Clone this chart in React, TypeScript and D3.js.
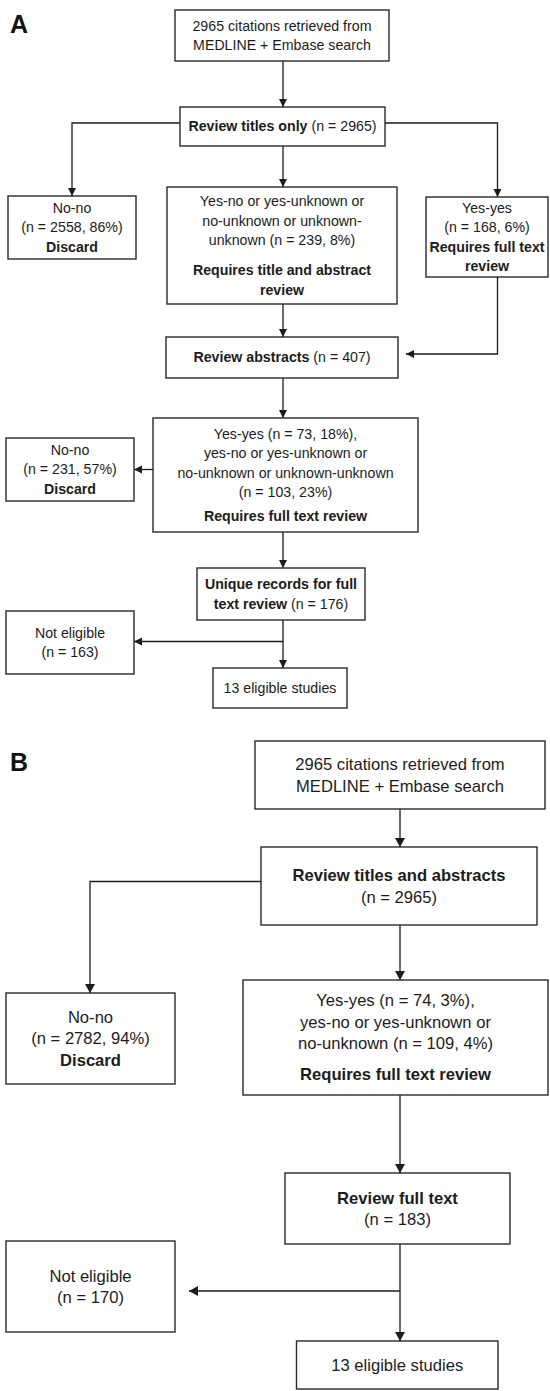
import React, { useEffect, useRef } from 'react'
import * as d3 from 'd3'

// numbers
const totalCitations = 2965
const titleOnlyN = [2558, 239, 168] // no-no, mixed, yes-yes
const titleOnlyPct = [86, 8, 6]
const abstractsReviewed = 407
const abstractN = [231, 73, 103] // no-no, yes-yes, mixed
const abstractPct = [57, 18, 23]
const uniqueFullTextA = 176
const notEligibleA = 163
const combinedN = [2782, 74, 109] // no-no, yes-yes, mixed
const combinedPct = [94, 3, 4]
const fullTextB = 183
const notEligibleB = 170
const eligibleStudies = 13

type Seg = { t: string; b?: boolean }
type Line = { segs: Seg[]; para?: boolean }
const r = (t: string): Seg => ({ t })
const b = (t: string): Seg => ({ t, b: true })
const L = (...segs: Seg[]): Line => ({ segs })
const P = (...segs: Seg[]): Line => ({ segs, para: true })

const nodesA: { id: string; lines: Line[] }[] = [
  { id: 'search', lines: [L(r(`${totalCitations} citations retrieved from`)), L(r('MEDLINE + Embase search'))] },
  { id: 'titles', lines: [L(b('Review titles only'), r(` (n = ${totalCitations})`))] },
  { id: 'noNo1', lines: [L(r('No-no')), L(r(`(n = ${titleOnlyN[0]}, ${titleOnlyPct[0]}%)`)), L(b('Discard'))] },
  {
    id: 'mixed1',
    lines: [
      L(r('Yes-no or yes-unknown or')),
      L(r('no-unknown or unknown-')),
      L(r(`unknown (n = ${titleOnlyN[1]}, ${titleOnlyPct[1]}%)`)),
      P(b('Requires title and abstract')),
      L(b('review')),
    ],
  },
  {
    id: 'yes1',
    lines: [L(r('Yes-yes')), L(r(`(n = ${titleOnlyN[2]}, ${titleOnlyPct[2]}%)`)), L(b('Requires full text')), L(b('review'))],
  },
  { id: 'abstracts', lines: [L(b('Review abstracts'), r(` (n = ${abstractsReviewed})`))] },
  {
    id: 'pass2',
    lines: [
      L(r(`Yes-yes (n = ${abstractN[1]}, ${abstractPct[1]}%),`)),
      L(r('yes-no or yes-unknown or')),
      L(r('no-unknown or unknown-unknown')),
      L(r(`(n = ${abstractN[2]}, ${abstractPct[2]}%)`)),
      P(b('Requires full text review')),
    ],
  },
  { id: 'noNo2', lines: [L(r('No-no')), L(r(`(n = ${abstractN[0]}, ${abstractPct[0]}%)`)), L(b('Discard'))] },
  { id: 'unique', lines: [L(b('Unique records for full')), L(b('text review'), r(` (n = ${uniqueFullTextA})`))] },
  { id: 'notElig', lines: [L(r('Not eligible')), L(r(`(n = ${notEligibleA})`))] },
  { id: 'elig', lines: [L(r(`${eligibleStudies} eligible studies`))] },
]

const nodesB: { id: string; lines: Line[] }[] = [
  { id: 'search', lines: [L(r(`${totalCitations} citations retrieved from`)), L(r('MEDLINE + Embase search'))] },
  { id: 'titles', lines: [L(b('Review titles and abstracts')), L(r(`(n = ${totalCitations})`))] },
  { id: 'noNo', lines: [L(r('No-no')), L(r(`(n = ${combinedN[0]}, ${combinedPct[0]}%)`)), L(b('Discard'))] },
  {
    id: 'pass',
    lines: [
      L(r(`Yes-yes (n = ${combinedN[1]}, ${combinedPct[1]}%),`)),
      L(r('yes-no or yes-unknown or')),
      L(r(`no-unknown (n = ${combinedN[2]}, ${combinedPct[2]}%)`)),
      P(b('Requires full text review')),
    ],
  },
  { id: 'fullText', lines: [L(b('Review full text')), L(r(`(n = ${fullTextB})`))] },
  { id: 'notElig', lines: [L(r('Not eligible')), L(r(`(n = ${notEligibleB})`))] },
  { id: 'elig', lines: [L(r(`${eligibleStudies} eligible studies`))] },
]

// layout: box corners [x0, y0, x1, y1] and paragraph gap
const layoutA: Record<string, { box: number[]; gap?: number }> = {
  search: { box: [175, 10, 389, 61] },
  titles: { box: [180, 107, 385, 146] },
  noNo1: { box: [8, 196, 136, 259] },
  mixed1: { box: [167, 187, 397, 304], gap: 30 },
  yes1: { box: [426, 197, 548, 277] },
  abstracts: { box: [166, 337, 398, 378] },
  pass2: { box: [153, 418, 418, 532], gap: 24 },
  noNo2: { box: [6, 438, 134, 501] },
  unique: { box: [197, 568, 365, 620] },
  notElig: { box: [6, 611, 134, 674] },
  elig: { box: [213, 668, 347, 708] },
}
const linksA: number[][][] = [
  [[283, 61], [283, 107]],
  [[180, 123], [72, 123], [72, 196]],
  [[385, 123], [497.5, 123], [497.5, 197]],
  [[283, 146], [283, 187]],
  [[283, 304], [283, 337]],
  [[497.5, 277], [497.5, 354], [406, 354]],
  [[283, 378], [283, 418]],
  [[153, 469.5], [134, 469.5]],
  [[283, 532], [283, 568]],
  [[283, 620], [283, 668]],
  [[283, 641.5], [134, 641.5]],
]

const layoutB: Record<string, { box: number[]; gap?: number }> = {
  search: { box: [255, 741, 545, 809] },
  titles: { box: [261, 847, 537, 925] },
  noNo: { box: [6, 993, 175, 1084] },
  pass: { box: [243, 980, 548, 1095], gap: 31 },
  fullText: { box: [285, 1173, 510, 1244] },
  notElig: { box: [6, 1241, 175, 1332] },
  elig: { box: [296.5, 1341, 498, 1389] },
}
const linksB: number[][][] = [
  [[400, 809], [400, 847]],
  [[261, 881.5], [90, 881.5], [90, 993]],
  [[400, 925], [400, 980]],
  [[400, 1095], [400, 1173]],
  [[400, 1244], [400, 1341]],
  [[400, 1291], [189, 1291]],
]

const FONT = '"Liberation Sans", Arial, Helvetica, sans-serif'
const INK = '#1c1c1c'

function drawPanel(svg, label, labelY, nodes, layout, links, fs, lh, head) {
  const g = svg.append('g')

  g.append('text')
    .attr('x', 10)
    .attr('y', labelY)
    .attr('font-size', 25)
    .attr('font-weight', 'bold')
    .attr('fill', '#111')
    .text(label)

  const line = d3.line()

  links.forEach((pts) => {
    g.append('path')
      .attr('d', line(pts as [number, number][]))
      .attr('fill', 'none')
      .attr('stroke', INK)
      .attr('stroke-width', 1.3)
    // arrow head on the last segment
    const [x1, y1] = pts[pts.length - 2]
    const [x2, y2] = pts[pts.length - 1]
    const a = Math.atan2(y2 - y1, x2 - x1)
    const bx = x2 - head[1] * Math.cos(a)
    const by = y2 - head[1] * Math.sin(a)
    const px = (head[0] / 2) * Math.cos(a + Math.PI / 2)
    const py = (head[0] / 2) * Math.sin(a + Math.PI / 2)
    g.append('path')
      .attr('d', `M${x2},${y2}L${bx + px},${by + py}L${bx - px},${by - py}Z`)
      .attr('fill', INK)
  })

  nodes.forEach((n) => {
    const { box, gap = lh } = layout[n.id]
    const [x0, y0, x1, y1] = box
    g.append('rect')
      .attr('x', x0)
      .attr('y', y0)
      .attr('width', x1 - x0)
      .attr('height', y1 - y0)
      .attr('fill', '#fff')
      .attr('stroke', '#2a2a2a')
      .attr('stroke-width', 1.4)

    const offs: number[] = []
    let cur = 0
    n.lines.forEach((ln, i) => {
      if (i > 0) cur += ln.para ? gap : lh
      offs.push(cur)
    })
    const cy = (y0 + y1) / 2
    const start = cy - cur / 2
    const cx = (x0 + x1) / 2

    n.lines.forEach((ln, i) => {
      const t = g.append('text')
        .attr('x', cx)
        .attr('y', start + offs[i])
        .attr('dy', '0.35em')
        .attr('text-anchor', 'middle')
        .attr('font-size', fs)
        .attr('fill', INK)
      ln.segs.forEach((s) => {
        t.append('tspan').attr('font-weight', s.b ? 'bold' : 'normal').text(s.t)
      })
    })
  })
}

export default function App() {
  const ref = useRef<SVGSVGElement>(null)

  useEffect(() => {
    const svg = d3.select(ref.current)
    svg.selectAll('*').remove()
    svg.append('rect').attr('width', 550).attr('height', 1391).attr('fill', '#fff')
    drawPanel(svg, 'A', 33, nodesA, layoutA, linksA, 14.2, 19.5, [8, 8])
    drawPanel(svg, 'B', 771, nodesB, layoutB, linksB, 16.6, 21.5, [10, 9])
  }, [])

  return (
    <div style={{ position: 'absolute', left: 0, top: 0 }}>
      <svg ref={ref} width={550} height={1391} style={{ display: 'block', fontFamily: FONT }} />
    </div>
  )
}
